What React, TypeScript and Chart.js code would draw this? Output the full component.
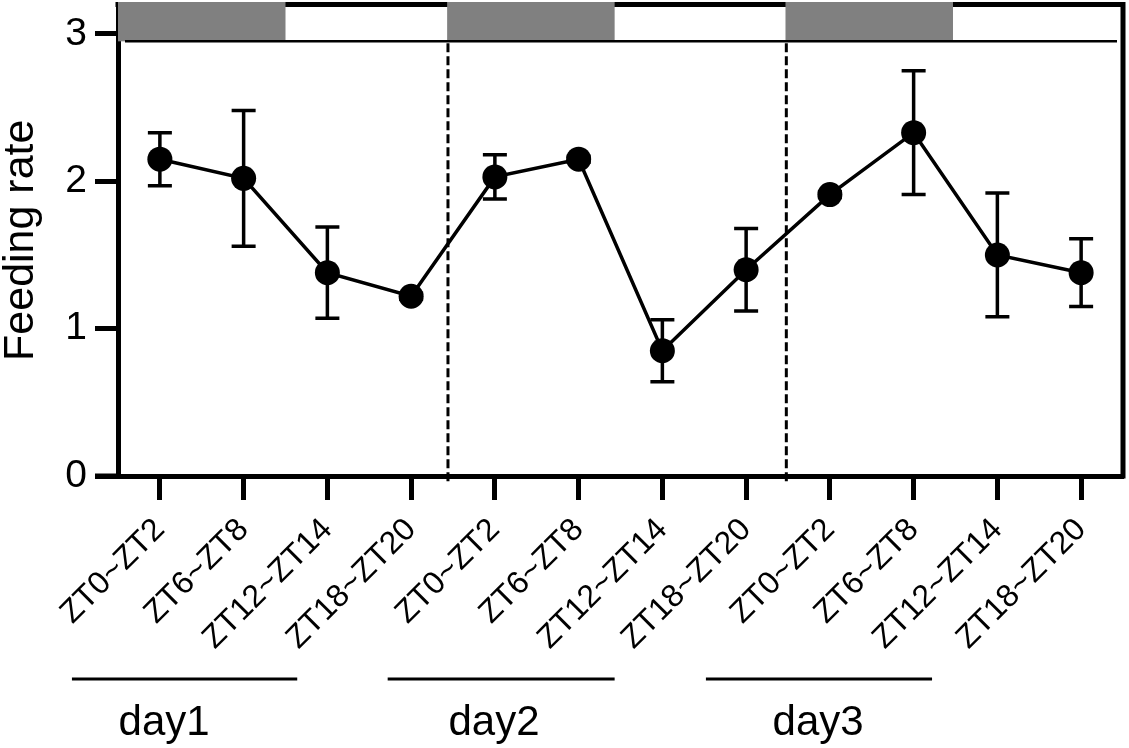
import React, { useEffect, useRef } from 'react';
import { Chart, registerables } from 'chart.js';

Chart.register(...registerables);

// time windows, repeated for the three days
const timeLabels = [
  'ZT0~ZT2', 'ZT6~ZT8', 'ZT12~ZT14', 'ZT18~ZT20',
  'ZT0~ZT2', 'ZT6~ZT8', 'ZT12~ZT14', 'ZT18~ZT20',
  'ZT0~ZT2', 'ZT6~ZT8', 'ZT12~ZT14', 'ZT18~ZT20',
];
const feedingRate = [2.15, 2.02, 1.38, 1.22, 2.03, 2.15, 0.85, 1.40, 1.91, 2.33, 1.50, 1.38];
const feedingErr = [0.18, 0.46, 0.31, 0.02, 0.15, 0.02, 0.21, 0.28, 0.02, 0.42, 0.42, 0.23];
const yTicks = [0, 1, 2, 3];
const dayLabels = ['day1', 'day2', 'day3'];

// decoration positions in category-index units
const darkStarts = [-0.5, 3.43, 7.47];
const dayBreaks = [3.44, 7.48];
const dayLines = [[-1.05, 1.64], [2.72, 5.43], [6.52, 9.22]];
const dayTextAt = [0.05, 3.99, 7.86];

const FONT = "'Liberation Sans', Arial, sans-serif";

const decorPlugin = {
  id: 'decor',
  beforeDatasetsDraw(chart: any) {
    const { ctx, chartArea, scales } = chart;
    const { left, right, top, bottom } = chartArea;
    const x = scales.x;
    const y = scales.y;
    ctx.save();
    ctx.strokeStyle = '#000';
    ctx.lineCap = 'butt';

    // top + right frame, and x axis running past the y axis
    ctx.lineWidth = 5;
    ctx.beginPath();
    ctx.moveTo(left - 2.5, top);
    ctx.lineTo(right, top);
    ctx.lineTo(right, bottom + 2.5);
    ctx.stroke();
    ctx.beginPath();
    ctx.moveTo(left - 23, bottom);
    ctx.lineTo(left, bottom);
    ctx.stroke();

    // dark phase bars
    const lineY = y.getPixelForValue(2.95);
    ctx.fillStyle = '#808080';
    darkStarts.forEach((s) => {
      const x0 = Math.max(left, x.getPixelForValue(s));
      const x1 = x.getPixelForValue(s + 2);
      ctx.fillRect(x0, top - 2.5, x1 - x0, lineY - top + 2.5);
    });

    ctx.lineWidth = 2.5;
    ctx.beginPath();
    ctx.moveTo(left + 7, lineY);
    ctx.lineTo(right - 6, lineY);
    ctx.stroke();

    // day separators
    ctx.lineWidth = 3;
    ctx.setLineDash([9, 4]);
    dayBreaks.forEach((v) => {
      const px = x.getPixelForValue(v);
      ctx.beginPath();
      ctx.moveTo(px, lineY + 2);
      ctx.lineTo(px, bottom + 7);
      ctx.stroke();
    });
    ctx.setLineDash([]);

    // error bars
    ctx.lineWidth = 3.5;
    feedingRate.forEach((m, i) => {
      const e = feedingErr[i];
      const px = x.getPixelForValue(i);
      const yHi = y.getPixelForValue(m + e);
      const yLo = y.getPixelForValue(m - e);
      ctx.beginPath();
      ctx.moveTo(px, yHi);
      ctx.lineTo(px, yLo);
      ctx.moveTo(px - 12, yHi);
      ctx.lineTo(px + 12, yHi);
      ctx.moveTo(px - 12, yLo);
      ctx.lineTo(px + 12, yLo);
      ctx.stroke();
    });
    ctx.restore();
  },
  afterDraw(chart: any) {
    const { ctx } = chart;
    const x = chart.scales.x;
    ctx.save();
    ctx.strokeStyle = '#000';
    ctx.lineWidth = 3;
    dayLines.forEach(([a, b]) => {
      ctx.beginPath();
      ctx.moveTo(x.getPixelForValue(a), 679);
      ctx.lineTo(x.getPixelForValue(b), 679);
      ctx.stroke();
    });
    ctx.fillStyle = '#000';
    ctx.font = `42px ${FONT}`;
    ctx.textAlign = 'center';
    ctx.textBaseline = 'alphabetic';
    dayLabels.forEach((t, i) => {
      ctx.fillText(t, x.getPixelForValue(dayTextAt[i]), 735);
    });
    ctx.restore();
  },
};

const App: React.FC = () => {
  const canvasRef = useRef<HTMLCanvasElement>(null);

  useEffect(() => {
    if (!canvasRef.current) return;
    const chart = new Chart(canvasRef.current, {
      type: 'line',
      data: {
        labels: timeLabels,
        datasets: [{
          data: feedingRate,
          borderColor: '#000',
          borderWidth: 3.5,
          backgroundColor: '#000',
          pointRadius: 12.5,
          pointBorderWidth: 0,
          pointBackgroundColor: '#000',
          tension: 0,
        }],
      },
      options: {
        animation: false,
        responsive: true,
        maintainAspectRatio: false,
        layout: { autoPadding: false, padding: { top: 4.5, right: 6, left: 0, bottom: 0 } },
        plugins: {
          legend: { display: false },
          tooltip: { enabled: false },
        },
        scales: {
          x: {
            type: 'category',
            offset: true,
            grid: {
              drawOnChartArea: false,
              drawTicks: true,
              tickLength: 24,
              tickWidth: 5,
              tickColor: '#000',
              offset: false,
            },
            border: { display: true, width: 5, color: '#000' },
            ticks: {
              autoSkip: false,
              maxRotation: 45,
              minRotation: 45,
              color: '#000',
              padding: 11,
              font: { family: FONT, size: 32 },
            },
            afterFit: (s: any) => {
              s.height = 272;
              s.paddingLeft = 0;
              s.paddingRight = 0;
            },
          },
          y: {
            min: 0,
            max: 3.2,
            afterBuildTicks: (s: any) => { s.ticks = yTicks.map((v) => ({ value: v })); },
            grid: {
              drawOnChartArea: false,
              drawTicks: true,
              tickLength: 23,
              tickWidth: 5,
              tickColor: '#000',
            },
            border: { display: true, width: 5, color: '#000' },
            ticks: {
              color: '#000',
              padding: 8,
              font: { family: FONT, size: 39 },
            },
            title: {
              display: true,
              text: 'Feeding rate',
              color: '#000',
              padding: 0,
              font: { family: FONT, size: 43, lineHeight: 1 },
            },
            afterFit: (s: any) => {
              s.width = 118;
              s.paddingTop = 0;
              s.paddingBottom = 0;
            },
          },
        },
      },
      plugins: [decorPlugin],
    });
    return () => chart.destroy();
  }, []);

  return (
    <div style={{ position: 'absolute', left: 0, top: 0, width: 1129, height: 748, background: '#fff' }}>
      <canvas ref={canvasRef}></canvas>
    </div>
  );
};

export default App;
